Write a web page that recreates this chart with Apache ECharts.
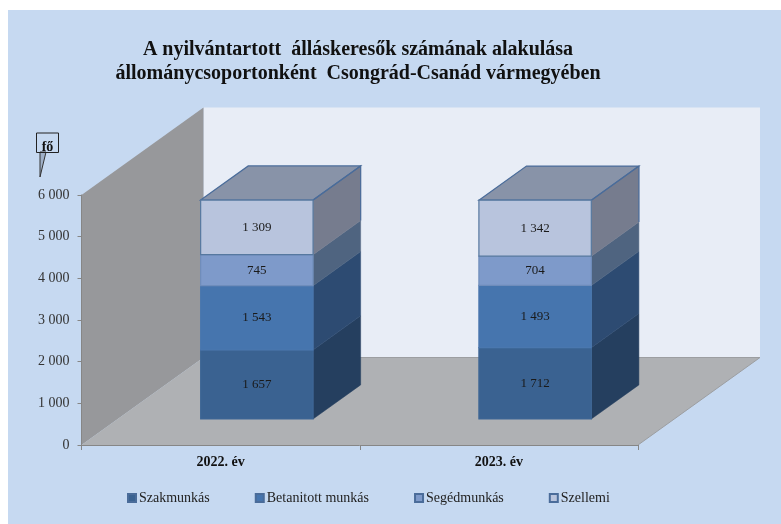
<!DOCTYPE html>
<html><head><meta charset="utf-8">
<style>html,body{margin:0;padding:0;background:#fff}#c{width:781px;height:524px}</style>
<script src="https://cdn.jsdelivr.net/npm/echarts@6/dist/echarts.min.js"></script>
</head><body><div id="c"></div>
<script>
const categories = ['2022. év', '2023. év'];
const szakmunkas = [1657, 1712];
const betanitott = [1543, 1493];
const segedmunkas = [745, 704];
const szellemi = [1309, 1342];
const seriesNames = ['Szakmunkás', 'Betanitott munkás', 'Segédmunkás', 'Szellemi'];
const yTicks = { min: 0, max: 6000, interval: 1000 };

const FONT = '"Liberation Serif","Times New Roman",serif';
const DX = 122, DY = -87.5;
const BAR_W = 0.404, BAR_FRONT = 0.297, BAR_DEPTH = 0.39;
const palette = [
  { front: '#3A6291', side: '#253F5F', line: '#3F6796' },
  { front: '#4675AE', side: '#2D4B72', line: '#4A77AE' },
  { front: '#7E9ACA', side: '#4F6480', line: '#6F8DBB' },
  { front: '#B8C4DD', side: '#767C8E', line: '#56789F' }
];
const fmt = v => String(v).replace(/\B(?=(\d{3})+$)/g, ' ');
const pts = a => ({ points: a });

function renderWalls(params, api) {
  const c = params.coordSys;
  const l = c.x, r = c.x + c.width, t = c.y, b = c.y + c.height;
  return { type: 'group', children: [
    { type: 'polygon', shape: pts([[l + DX, t + DY], [r + DX, t + DY], [r + DX, b + DY], [l + DX, b + DY]]), style: { fill: '#E8EDF6' } },
    { type: 'polygon', shape: pts([[l, t], [l + DX, t + DY], [l + DX, b + DY], [l, b]]), style: { fill: '#97989B' } },
    { type: 'polygon', shape: pts([[l, b], [r, b], [r + DX, b + DY], [l + DX, b + DY]]), style: { fill: '#AFB1B4' } },
    { type: 'polyline', shape: pts([[r, b], [r + DX, b + DY], [l + DX, b + DY]]), style: { fill: 'none', stroke: '#9C9EA1', lineWidth: 1 } }
  ] };
}

function segmentRenderer(idx, isTop) {
  const col = palette[idx];
  return function (params, api) {
    const cat = api.value(0), lo = api.value(1), hi = api.value(2), val = api.value(3);
    const band = api.size([1, 0])[0];
    const w = band * BAR_W;
    const p0 = api.coord([cat, lo]), p1 = api.coord([cat, hi]);
    const ox = DX * BAR_FRONT, oy = DY * BAR_FRONT;
    const dx = DX * BAR_DEPTH, dy = DY * BAR_DEPTH;
    const x0 = p0[0] - w / 2 + ox, x1 = x0 + w, yb = p0[1] + oy, yt = p1[1] + oy;
    const ch = [];
    ch.push({ type: 'polygon', shape: pts([[x1, yb], [x1 + dx, yb + dy], [x1 + dx, yt + dy], [x1, yt]]),
      style: { fill: col.side, stroke: col.side, lineWidth: 0.5 } });
    if (isTop) {
      ch.push({ type: 'polygon', shape: pts([[x0, yt], [x0 + dx, yt + dy], [x1 + dx, yt + dy], [x1, yt]]),
        style: { fill: '#8893A8', stroke: '#4A6C9A', lineWidth: 1.2 } });
      ch.push({ type: 'polyline', shape: pts([[x1, yt], [x1 + dx, yt + dy], [x1 + dx, yb + dy]]),
        style: { fill: 'none', stroke: '#4A6C9A', lineWidth: 1.2 } });
    }
    ch.push({ type: 'rect', shape: { x: x0, y: yt, width: w, height: yb - yt },
      style: { fill: col.front, stroke: col.line, lineWidth: 1.2 } });
    ch.push({ type: 'text', style: { x: (x0 + x1) / 2, y: (yt + yb) / 2, text: fmt(val), align: 'center', verticalAlign: 'middle',
      fill: '#1A1A1A', font: '13px ' + FONT } });
    return { type: 'group', children: ch };
  };
}

const stacks = [szakmunkas, betanitott, segedmunkas, szellemi];
const running = categories.map(() => 0);
const barSeries = stacks.map((vals, i) => {
  const data = vals.map((v, k) => {
    const row = [k, running[k], running[k] + v, v];
    running[k] += v;
    return row;
  });
  return {
    type: 'custom', name: seriesNames[i], data, z: 3 + i,
    encode: { x: 0, y: [1, 2] },
    itemStyle: { color: palette[i].front, borderColor: '#4A6C9A', borderWidth: 1 },
    renderItem: segmentRenderer(i, i === stacks.length - 1)
  };
});

const chart = echarts.init(document.getElementById('c'), null, { renderer: 'canvas' });
chart.setOption({
  animation: false,
  backgroundColor: '#fff',
  textStyle: { fontFamily: FONT },
  graphic: [
    { type: 'rect', z: -10, shape: { x: 8, y: 10, width: 773, height: 514 }, style: { fill: '#C6D9F1' } },
    { type: 'polygon', z: 20, shape: { points: [[40, 152], [40, 177], [46, 152]] }, style: { fill: '#9FB0C8', stroke: '#333', lineWidth: 1 } },
    { type: 'rect', z: 20, shape: { x: 36.5, y: 133, width: 22, height: 19.5 }, style: { fill: 'none', stroke: '#222', lineWidth: 1 } },
    { type: 'text', z: 21, style: { x: 47.5, y: 147, text: 'fő', align: 'center', verticalAlign: 'middle', fill: '#111', font: 'bold 14px ' + FONT } }
  ],
  title: {
    text: 'A nyilvántartott  álláskeresők számának alakulása\nállománycsoportonként  Csongrád-Csanád vármegyében',
    left: 353, top: 33, textAlign: 'center',
    textStyle: { fontFamily: FONT, fontSize: 20, fontWeight: 'bold', color: '#111', lineHeight: 24 }
  },
  legend: {
    left: 127, top: 491, padding: 0, itemWidth: 8, itemHeight: 8, itemGap: 45, icon: 'rect',
    data: seriesNames,
    textStyle: { fontFamily: FONT, fontSize: 14, color: '#222', padding: [0, 0, 0, -2] }
  },
  grid: { left: 81.5, top: 195, width: 556.5, height: 250, containLabel: false },
  xAxis: {
    type: 'category', data: categories, z: 10,
    axisLine: { lineStyle: { color: '#868686', width: 1 } },
    axisTick: { show: true, alignWithLabel: false, length: 5, lineStyle: { color: '#868686' } },
    axisLabel: { margin: 10, fontFamily: FONT, fontSize: 14, fontWeight: 'bold', color: '#111' }
  },
  yAxis: {
    type: 'value', min: yTicks.min, max: yTicks.max, interval: yTicks.interval, z: 10,
    splitLine: { show: false },
    axisLine: { show: true, lineStyle: { color: '#868686', width: 1 } },
    axisTick: { show: true, length: 4, lineStyle: { color: '#868686' } },
    axisLabel: { margin: 12, fontFamily: FONT, fontSize: 14, color: '#333', formatter: v => fmt(v) }
  },
  series: [
    { type: 'custom', data: [[0, 0]], z: 1, silent: true, encode: { x: 0, y: 1 }, renderItem: renderWalls }
  ].concat(barSeries)
});
</script></body></html>
